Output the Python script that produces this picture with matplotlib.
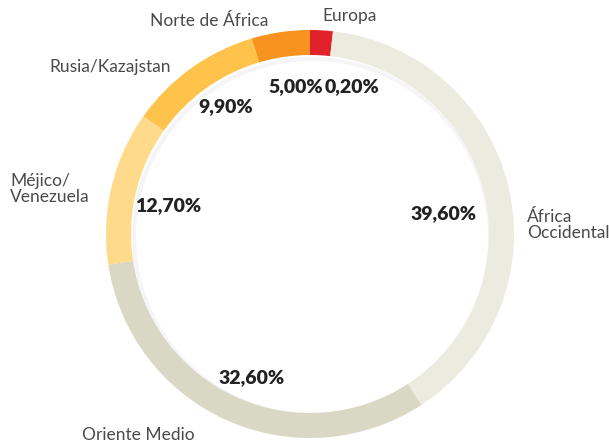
import matplotlib.pyplot as plt

# data: regions clockwise from the top, shares as drawn, and printed percentages
regions = ["Europa", "África\nOccidental", "Oriente Medio", "Méjico/\nVenezuela",
           "Rusia/Kazajstan", "Norte de África"]
shares = [1.8, 39.0, 31.8, 12.2, 10.6, 4.6]
pct_labels = ["0,20%", "39,60%", "32,60%", "12,70%", "9,90%", "5,00%"]
colors = ["#e2222a", "#ecebe0", "#d9d8c5", "#ffda8a", "#ffc34c", "#f7931e"]

W, H = 609, 447
fig = plt.figure(figsize=(W / 100, H / 100), dpi=100)
ax = fig.add_axes([0, 0, 1, 1])

cx, cy, R = 310, H - 234, 204

# faint shadow just inside the ring
ax.pie([1], radius=R - 24, center=(cx + 2, cy - 3), colors=["#f5f5f7"],
       wedgeprops=dict(width=4, linewidth=0), frame=True)

ax.pie(shares, radius=R, center=(cx, cy), colors=colors, startangle=90,
       counterclock=False, wedgeprops=dict(width=25, linewidth=0), frame=True)
ax.set_xlim(0, W)
ax.set_ylim(0, H)
ax.set_aspect('equal')
ax.axis('off')

lab = dict(family='Lato', fontweight='normal', fontsize=12.5, color='#4a4a4a',
           linespacing=1.0)
pct = dict(family='Lato', fontweight='heavy', fontsize=14, color='#222222',
           ha='center', va='center')

# region names (pixel positions from the top-left)
name_pos = [(350, 16, 'center'), (527, 225, 'left'), (82, 435, 'left'),
            (10, 189, 'left'), (49, 67, 'left'), (209, 21, 'center')]
for name, (x, y, ha) in zip(regions, name_pos):
    ax.text(x, H - y, name, ha=ha, va='center', **lab)

# percentage values
pct_pos = [(352, 87), (443, 214), (252, 378), (168, 206), (226, 107), (296, 87)]
for txt, (x, y) in zip(pct_labels, pct_pos):
    ax.text(x, H - y, txt, **pct)

fig.savefig("out.png", dpi=100)
